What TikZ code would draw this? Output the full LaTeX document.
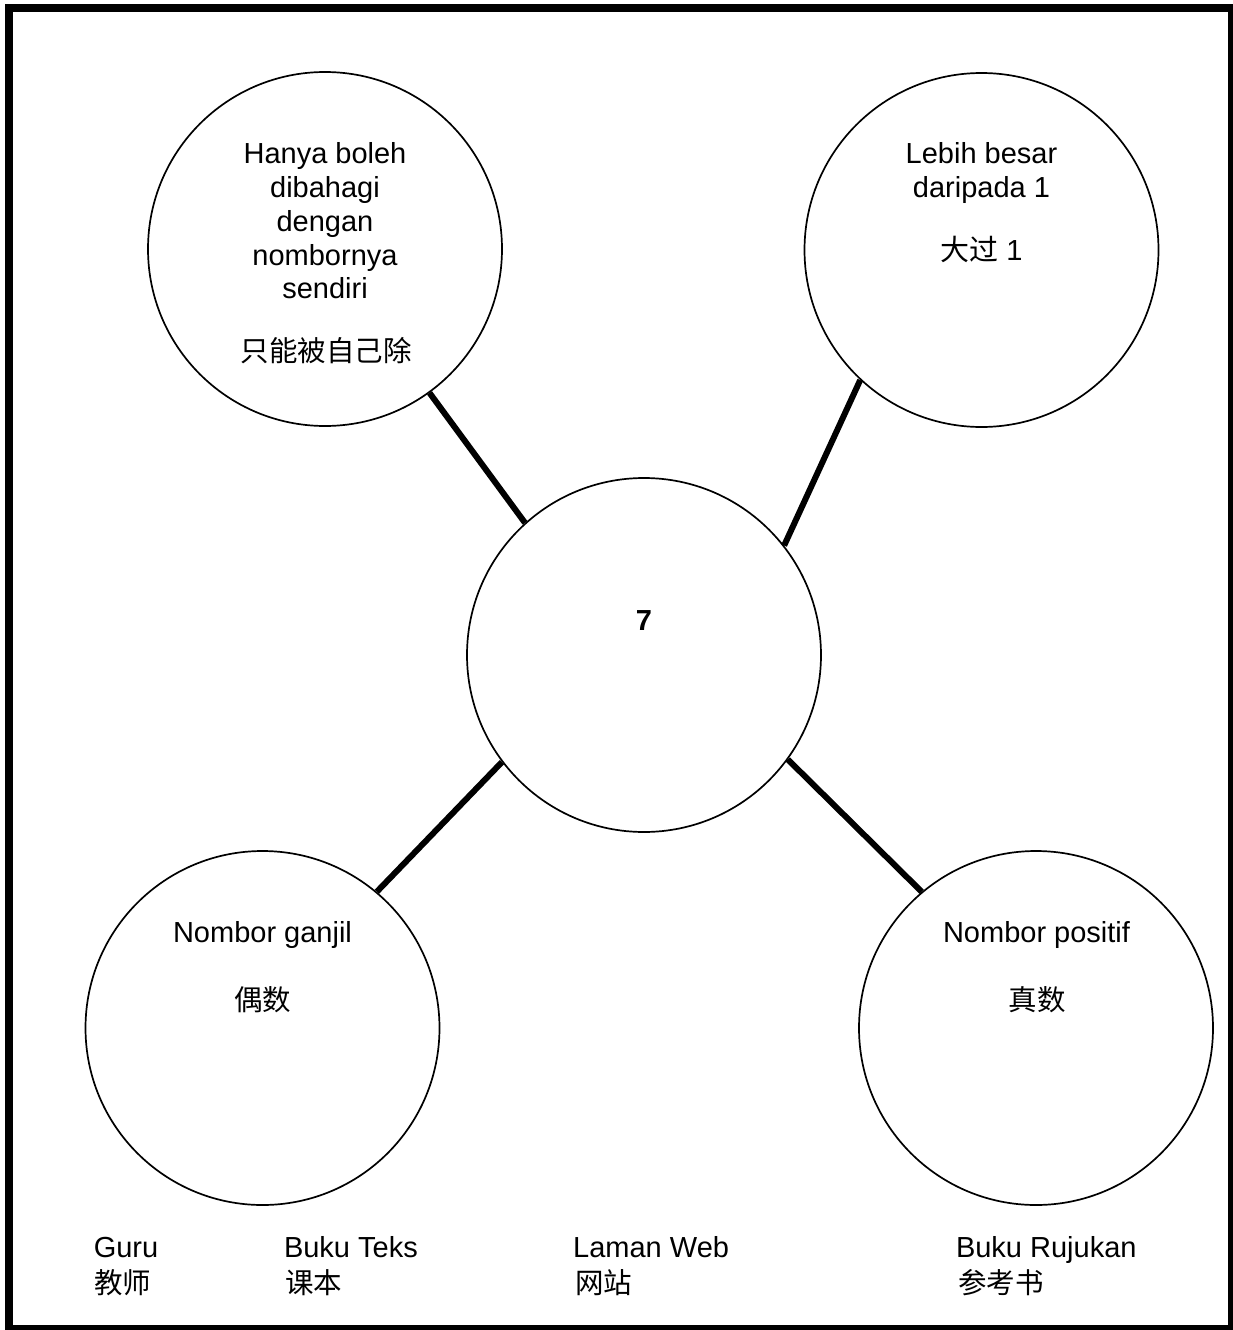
\documentclass[tikz,border=0pt]{standalone}
\usepackage{fontspec}
\setmainfont{Liberation Sans}
\newfontfamily\cjk{Noto Sans CJK SC}
\begin{document}
\begin{tikzpicture}[x=1pt,y=-1pt,
  bubble/.style={circle,draw,line width=1.7pt,minimum size=354pt,inner sep=0pt},
  link/.style={line width=6pt},
  txt/.style={anchor=base,inner sep=0pt,font=\fontsize{29}{34}\selectfont},
  ctxt/.style={txt,font=\fontsize{28.5}{34}\selectfont\cjk},
  ltxt/.style={txt,anchor=base west},
  lctxt/.style={ctxt,anchor=base west}]
\useasboundingbox (0,0) rectangle (1233,1330);

% frame
\fill (5,4) rectangle (13,1330);
\fill (5,4) rectangle (1233,12);
\fill (1228,4) rectangle (1233,1330);
\fill (5,1325) rectangle (1233,1330);

% bubbles
\node[bubble] (tl) at (325,249) {};
\node[bubble] (tr) at (981.5,250) {};
\node[bubble] (c)  at (644,655) {};
\node[bubble] (bl) at (262.5,1028) {};
\node[bubble] (br) at (1036,1028) {};

% links
\draw[link] (tl.306) -- (c.132);
\draw[link] (tr.227) -- (c.38);
\draw[link] (bl.50)  -- (c.217);
\draw[link] (br.130) -- (c.324);

% centre
\node[txt,font=\fontsize{29}{34}\selectfont\bfseries] (seven) at (644,630) {7};

% top left
\node[txt] (tla) at (325,163) {Hanya boleh};
\node[txt] (tlb) at (325,197) {dibahagi};
\node[txt] (tlc) at (325,231) {dengan};
\node[txt] (tld) at (325,265) {nombornya};
\node[txt] (tle) at (325,298) {sendiri};
\node[ctxt] (tlf) at (326,361) {只能被自己除};

% top right
\node[txt] (tra) at (981.5,163) {Lebih besar};
\node[txt] (trb) at (981.5,197) {daripada 1};
\node[txt] (trc) at (981.5,260) {{\cjk 大过} 1};

% bottom left
\node[txt] (bla) at (262.5,942) {Nombor ganjil};
\node[ctxt] (blb) at (262.5,1010) {偶数};

% bottom right
\node[txt] (bra) at (1036.5,942) {Nombor positif};
\node[ctxt] (brb) at (1037,1010) {真数};

% sources
\node[ltxt] (s1) at (93.6,1257) {Guru};
\node[lctxt] (s1c) at (94,1293) {教师};
\node[ltxt] (s2) at (283.8,1257) {Buku Teks};
\node[lctxt] (s2c) at (285,1293) {课本};
\node[ltxt] (s3) at (573,1257) {Laman Web};
\node[lctxt] (s3c) at (575,1293) {网站};
\node[ltxt] (s4) at (955.8,1257) {Buku Rujukan};
\node[lctxt] (s4c) at (958,1293) {参考书};
\end{tikzpicture}
\end{document}
